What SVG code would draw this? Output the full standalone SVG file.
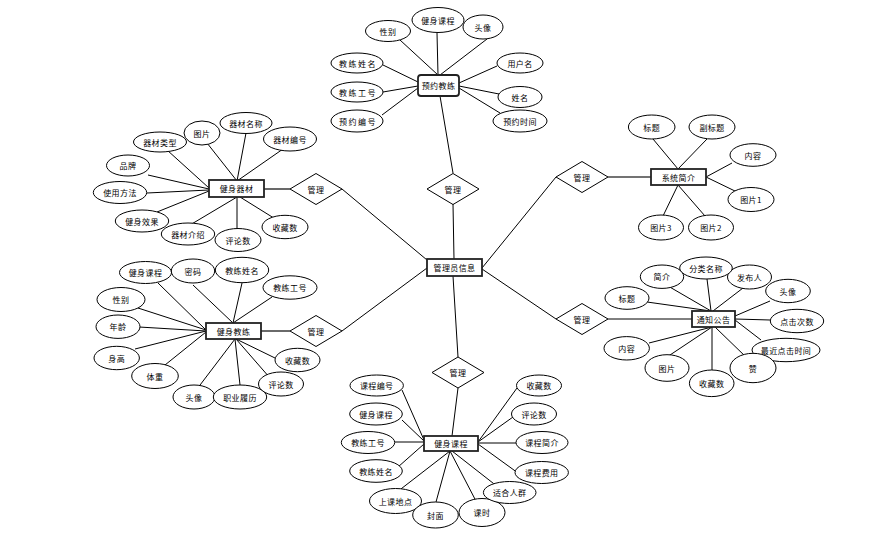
<svg xmlns="http://www.w3.org/2000/svg" width="892" height="540" viewBox="0 0 892 540">
<style>
.bg{fill:#fff}
.c line{stroke:#000;stroke-width:1}
.c .k{stroke:#444;stroke-width:1.6}
.a{fill:#fff;stroke:#000;stroke-width:1}
.e{fill:#fff;stroke:#222;stroke-width:1.8}
.r{fill:#fff;stroke:#000;stroke-width:1}
text{font-family:"Noto Sans CJK SC","Noto Sans",sans-serif;font-size:8px;fill:#000;text-anchor:middle;dominant-baseline:central;letter-spacing:0.4px}
.w{letter-spacing:1.5px}
</style>
<rect class="bg" x="0" y="0" width="892" height="540"/>
<g id="connectors" class="c">
<line x1="453" y1="204" x2="454" y2="259"/>
<line x1="342" y1="189" x2="427" y2="260"/>
<line x1="342" y1="331" x2="427" y2="268"/>
<line x1="482" y1="268" x2="556" y2="177"/>
<line x1="482" y1="269" x2="556" y2="319"/>
<line x1="453" y1="276" x2="458" y2="357"/>
<line x1="440" y1="96" x2="453" y2="173"/>
<line class="k" x1="264" y1="189" x2="290" y2="189"/>
<line class="k" x1="261" y1="331" x2="290" y2="331"/>
<line x1="458" y1="388" x2="452" y2="436"/>
<line class="k" x1="608" y1="177" x2="651" y2="177"/>
<line x1="608" y1="319" x2="692" y2="319"/>
<line x1="400" y1="40" x2="438" y2="75"/>
<line x1="437" y1="33" x2="438" y2="75"/>
<line x1="487" y1="39" x2="440" y2="75"/>
<line x1="383" y1="65" x2="418" y2="82"/>
<line x1="383" y1="92" x2="418" y2="86"/>
<line x1="382" y1="115" x2="418" y2="88"/>
<line x1="497" y1="66" x2="459" y2="83"/>
<line x1="499" y1="94" x2="459" y2="86"/>
<line x1="500" y1="113" x2="459" y2="88"/>
<line x1="167" y1="150" x2="209" y2="188"/>
<line x1="207" y1="143" x2="237" y2="181"/>
<line x1="246" y1="133" x2="237" y2="181"/>
<line x1="283" y1="149" x2="237" y2="181"/>
<line x1="148" y1="175" x2="209" y2="189"/>
<line x1="147" y1="193" x2="209" y2="190"/>
<line x1="157" y1="212" x2="209" y2="191"/>
<line x1="190" y1="225" x2="237" y2="197"/>
<line x1="237" y1="229" x2="237" y2="197"/>
<line x1="277" y1="220" x2="240" y2="197"/>
<line x1="158" y1="283" x2="206" y2="330"/>
<line x1="193" y1="285" x2="233" y2="323"/>
<line x1="242" y1="283" x2="233" y2="323"/>
<line x1="272" y1="297" x2="233" y2="323"/>
<line x1="138" y1="308" x2="206" y2="330"/>
<line x1="139" y1="327" x2="206" y2="331"/>
<line x1="135" y1="349" x2="206" y2="331"/>
<line x1="165" y1="365" x2="206" y2="332"/>
<line x1="197" y1="389" x2="235" y2="339"/>
<line x1="240" y1="385" x2="235" y2="339"/>
<line x1="270" y1="378" x2="236" y2="339"/>
<line x1="275" y1="358" x2="236" y2="339"/>
<line x1="402" y1="390" x2="424" y2="440"/>
<line x1="402" y1="420" x2="424" y2="441"/>
<line x1="395" y1="442" x2="424" y2="442"/>
<line x1="398" y1="467" x2="424" y2="444"/>
<line x1="517" y1="388" x2="478" y2="442"/>
<line x1="513" y1="417" x2="478" y2="442"/>
<line x1="516" y1="443" x2="478" y2="443"/>
<line x1="518" y1="473" x2="478" y2="444"/>
<line x1="397" y1="492" x2="450" y2="451"/>
<line x1="436" y1="502" x2="450" y2="451"/>
<line x1="477" y1="503" x2="450" y2="451"/>
<line x1="498" y1="487" x2="452" y2="451"/>
<line x1="653" y1="139" x2="678" y2="169"/>
<line x1="707" y1="139" x2="678" y2="169"/>
<line x1="663" y1="216" x2="678" y2="185"/>
<line x1="705" y1="216" x2="678" y2="185"/>
<line x1="732" y1="163" x2="706" y2="177"/>
<line x1="737" y1="192" x2="706" y2="177"/>
<line x1="647" y1="302" x2="711" y2="311"/>
<line x1="668" y1="286" x2="711" y2="311"/>
<line x1="707" y1="279" x2="711" y2="311"/>
<line x1="743" y1="288" x2="713" y2="311"/>
<line x1="770" y1="301" x2="735" y2="316"/>
<line x1="770" y1="320" x2="735" y2="319"/>
<line x1="761" y1="340" x2="735" y2="320"/>
<line x1="747" y1="358" x2="715" y2="327"/>
<line x1="712" y1="370" x2="712" y2="327"/>
<line x1="667" y1="357" x2="712" y2="327"/>
<line x1="649" y1="343" x2="712" y2="327"/>
</g>

<g id="rel-top"><polygon class="r" points="427,189 453,173.5 479,189 453,204.5"/><text x="453" y="189">管理</text></g>
<g id="rel-left-top"><polygon class="r" points="290,189 316,173.5 342,189 316,204.5"/><text x="316" y="189">管理</text></g>
<g id="rel-left-bottom"><polygon class="r" points="290,331 316,315.5 342,331 316,346.5"/><text x="316" y="331">管理</text></g>
<g id="rel-right-top"><polygon class="r" points="556,177 582,161.5 608,177 582,192.5"/><text x="582" y="177">管理</text></g>
<g id="rel-right-bottom"><polygon class="r" points="556,319 582,303.5 608,319 582,334.5"/><text x="582" y="319">管理</text></g>
<g id="rel-bottom"><polygon class="r" points="432,372.5 458,357 484,372.5 458,388"/><text x="458" y="372.5">管理</text></g>

<g id="admin"><rect class="e" x="427" y="259" width="55" height="17"/><text x="454.5" y="267.5">管理员信息</text></g>
<g id="booking"><rect class="e" x="418" y="75" width="41" height="21" rx="3"/><text x="438.5" y="85.5">预约教练</text></g>
<g id="equipment"><rect class="e" x="209" y="180" width="55" height="17"/><text x="236.5" y="188.5">健身器材</text></g>
<g id="coach"><rect class="e" x="206" y="323" width="55" height="16"/><text x="233.5" y="331">健身教练</text></g>
<g id="course"><rect class="e" x="424" y="436" width="54" height="15"/><text x="451" y="443.5">健身课程</text></g>
<g id="intro"><rect class="e" x="651" y="169" width="55" height="16"/><text x="678.5" y="177">系统简介</text></g>
<g id="notice"><rect class="e" x="692" y="311" width="43" height="16"/><text x="713.5" y="319">通知公告</text></g>

<g id="b-xb"><ellipse class="a" cx="388" cy="31" rx="22.5" ry="10.5"/><text x="388" y="31">性别</text></g>
<g id="b-jskc"><ellipse class="a" cx="438" cy="20" rx="26" ry="12.5"/><text x="438" y="20">健身课程</text></g>
<g id="b-tx"><ellipse class="a" cx="483" cy="27" rx="20" ry="12"/><text x="483" y="27">头像</text></g>
<g id="b-jlxm"><ellipse class="a" cx="357" cy="63" rx="26" ry="10"/><text class="w" x="358" y="63">教练姓名</text></g>
<g id="b-jlgh"><ellipse class="a" cx="357" cy="92" rx="26" ry="10"/><text class="w" x="358" y="92">教练工号</text></g>
<g id="b-yybh"><ellipse class="a" cx="357" cy="121" rx="26" ry="11"/><text class="w" x="358" y="121">预约编号</text></g>
<g id="b-yhm"><ellipse class="a" cx="520" cy="63" rx="23" ry="10"/><text x="520" y="63">用户名</text></g>
<g id="b-xm"><ellipse class="a" cx="520" cy="97" rx="22" ry="10.5"/><text x="520" y="97">姓名</text></g>
<g id="b-yysj"><ellipse class="a" cx="520" cy="121" rx="27" ry="11"/><text x="520" y="121">预约时间</text></g>

<g id="q-qclx"><ellipse class="a" cx="160" cy="142" rx="26.5" ry="10"/><text x="160" y="142">器材类型</text></g>
<g id="q-tp"><ellipse class="a" cx="202" cy="133" rx="18" ry="12"/><text x="202" y="133">图片</text></g>
<g id="q-qcmc"><ellipse class="a" cx="246" cy="123" rx="26" ry="10.5"/><text x="246" y="123">器材名称</text></g>
<g id="q-qcbh"><ellipse class="a" cx="290" cy="139" rx="26.5" ry="12"/><text x="290" y="139">器材编号</text></g>
<g id="q-pp"><ellipse class="a" cx="128" cy="165.5" rx="21.5" ry="10.5"/><text x="128" y="165.5">品牌</text></g>
<g id="q-syff"><ellipse class="a" cx="120" cy="192.5" rx="26.7" ry="11"/><text x="120" y="192.5">使用方法</text></g>
<g id="q-jsxg"><ellipse class="a" cx="142" cy="221" rx="26.7" ry="11"/><text x="142" y="221">健身效果</text></g>
<g id="q-qcjs"><ellipse class="a" cx="188" cy="234" rx="26.7" ry="11"/><text x="188" y="234">器材介绍</text></g>
<g id="q-pls"><ellipse class="a" cx="238" cy="240" rx="23" ry="11.5"/><text x="238" y="240">评论数</text></g>
<g id="q-scs"><ellipse class="a" cx="285" cy="227" rx="23" ry="11.7"/><text x="285" y="227">收藏数</text></g>

<g id="c-jskc"><ellipse class="a" cx="145.5" cy="272.5" rx="26" ry="11"/><text x="145.5" y="272.5">健身课程</text></g>
<g id="c-mm"><ellipse class="a" cx="193" cy="271" rx="21.7" ry="12"/><text x="193" y="271">密码</text></g>
<g id="c-jlxm"><ellipse class="a" cx="242" cy="270" rx="26.7" ry="12.7"/><text x="242" y="270">教练姓名</text></g>
<g id="c-jlgh"><ellipse class="a" cx="290" cy="287.5" rx="27" ry="11.7"/><text x="290" y="287.5">教练工号</text></g>
<g id="c-xb"><ellipse class="a" cx="121" cy="299.5" rx="24" ry="12"/><text x="121" y="299.5">性别</text></g>
<g id="c-nl"><ellipse class="a" cx="118" cy="326.7" rx="22" ry="11.7"/><text x="118" y="326.7">年龄</text></g>
<g id="c-sg"><ellipse class="a" cx="116.7" cy="358" rx="22.7" ry="11.7"/><text x="116.7" y="358">身高</text></g>
<g id="c-tz"><ellipse class="a" cx="155" cy="376" rx="23.3" ry="12.5"/><text x="155" y="376">体重</text></g>
<g id="c-tx"><ellipse class="a" cx="194" cy="397" rx="21" ry="12"/><text x="194" y="397">头像</text></g>
<g id="c-zyll"><ellipse class="a" cx="240" cy="397" rx="26.7" ry="12"/><text x="240" y="397">职业履历</text></g>
<g id="c-pls"><ellipse class="a" cx="281" cy="384" rx="22.5" ry="12"/><text x="281" y="384">评论数</text></g>
<g id="c-scs"><ellipse class="a" cx="297.5" cy="360" rx="22.5" ry="11.7"/><text x="297.5" y="360">收藏数</text></g>

<g id="k-kcbh"><ellipse class="a" cx="376.7" cy="385.5" rx="26.7" ry="10.5"/><text x="376.7" y="385.5">课程编号</text></g>
<g id="k-jskc"><ellipse class="a" cx="376" cy="414" rx="26.3" ry="11"/><text x="376" y="414">健身课程</text></g>
<g id="k-jlgh"><ellipse class="a" cx="368" cy="442.5" rx="26.7" ry="11"/><text x="368" y="442.5">教练工号</text></g>
<g id="k-jlxm"><ellipse class="a" cx="376" cy="471" rx="26.3" ry="11.3"/><text x="376" y="471">教练姓名</text></g>
<g id="k-skdd"><ellipse class="a" cx="395.5" cy="501" rx="26" ry="12.5"/><text x="395.5" y="501">上课地点</text></g>
<g id="k-fm"><ellipse class="a" cx="435.5" cy="515" rx="22.8" ry="13"/><text x="435.5" y="515">封面</text></g>
<g id="k-ks"><ellipse class="a" cx="482" cy="512.5" rx="23" ry="14"/><text x="482" y="512.5">课时</text></g>
<g id="k-shrq"><ellipse class="a" cx="509.7" cy="492.5" rx="26.3" ry="11"/><text x="509.7" y="492.5">适合人群</text></g>
<g id="k-kcfy"><ellipse class="a" cx="541.7" cy="472.5" rx="26.7" ry="11"/><text x="541.7" y="472.5">课程费用</text></g>
<g id="k-kcjj"><ellipse class="a" cx="542" cy="442.5" rx="26" ry="11"/><text x="542" y="442.5">课程简介</text></g>
<g id="k-pls"><ellipse class="a" cx="534" cy="414" rx="22.5" ry="11"/><text x="534" y="414">评论数</text></g>
<g id="k-scs"><ellipse class="a" cx="539" cy="385.5" rx="22.5" ry="10.5"/><text x="539" y="385.5">收藏数</text></g>

<g id="s-bt"><ellipse class="a" cx="651.7" cy="127" rx="23.3" ry="12"/><text x="651.7" y="127">标题</text></g>
<g id="s-fbt"><ellipse class="a" cx="712" cy="127" rx="23" ry="12"/><text x="712" y="127">副标题</text></g>
<g id="s-nr"><ellipse class="a" cx="753" cy="155" rx="23" ry="11.3"/><text x="753" y="155">内容</text></g>
<g id="s-tp1"><ellipse class="a" cx="751" cy="199.5" rx="23" ry="12"/><text x="751" y="199.5">图片1</text></g>
<g id="s-tp3"><ellipse class="a" cx="661" cy="227.5" rx="22.5" ry="12.5"/><text x="661" y="227.5">图片3</text></g>
<g id="s-tp2"><ellipse class="a" cx="711" cy="227.5" rx="22.5" ry="12.5"/><text x="711" y="227.5">图片2</text></g>

<g id="n-bt"><ellipse class="a" cx="627" cy="298" rx="22" ry="11.3"/><text x="627" y="298">标题</text></g>
<g id="n-jj"><ellipse class="a" cx="662" cy="276.7" rx="21.7" ry="11.7"/><text x="662" y="276.7">简介</text></g>
<g id="n-fbr"><ellipse class="a" cx="749.5" cy="277" rx="22" ry="12"/><text x="749.5" y="277">发布人</text></g>
<g id="n-flmc"><ellipse class="a" cx="706" cy="268" rx="26.3" ry="11"/><text x="706" y="268">分类名称</text></g>
<g id="n-tx"><ellipse class="a" cx="788" cy="291" rx="22.3" ry="11.7"/><text x="788" y="291">头像</text></g>
<g id="n-djcs"><ellipse class="a" cx="797" cy="321" rx="26.7" ry="11.7"/><text x="797" y="321">点击次数</text></g>
<g id="n-zjdjsj"><ellipse class="a" cx="786" cy="350" rx="34" ry="11.7"/><text x="786" y="350">最近点击时间</text></g>
<g id="n-z"><ellipse class="a" cx="753" cy="368" rx="23" ry="14.7"/><text x="753" y="368">赞</text></g>
<g id="n-scs"><ellipse class="a" cx="711.7" cy="383.3" rx="22.3" ry="13.3"/><text x="711.7" y="383.3">收藏数</text></g>
<g id="n-tp"><ellipse class="a" cx="667" cy="368" rx="22" ry="13.3"/><text x="667" y="368">图片</text></g>
<g id="n-nr"><ellipse class="a" cx="626.7" cy="348.3" rx="22.7" ry="11.7"/><text x="626.7" y="348.3">内容</text></g>
</svg>
